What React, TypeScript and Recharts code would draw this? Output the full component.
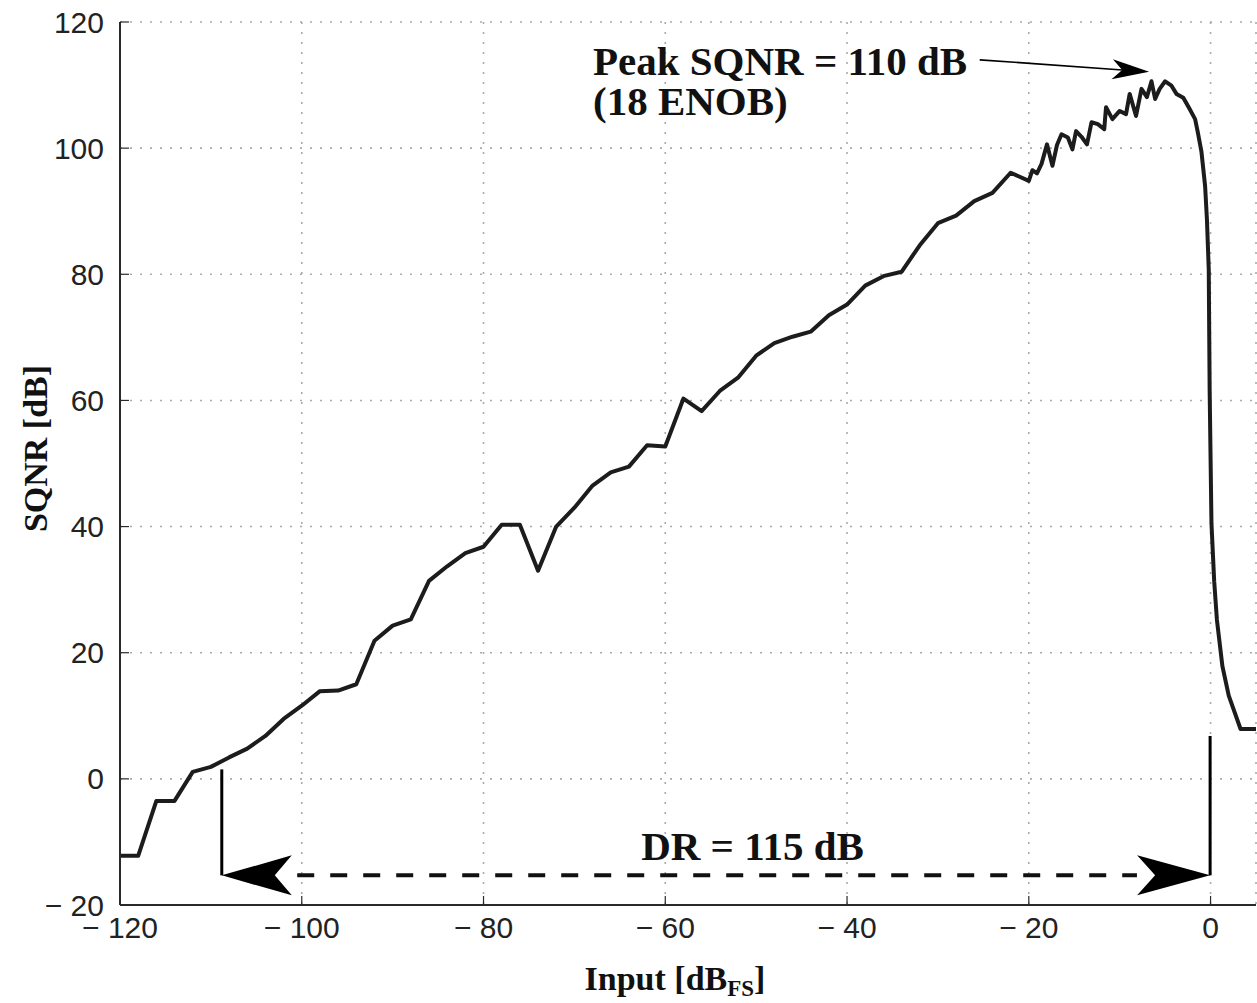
import React from 'react'
import {
  LineChart,
  Line,
  XAxis,
  YAxis,
  CartesianGrid,
  ReferenceLine,
  ReferenceDot,
} from 'recharts'

const inputDb = [
  -120, -118, -116, -114, -112, -110, -108, -106, -104, -102,
  -100, -98, -96, -94, -92, -90, -88, -86, -84, -82,
  -80, -78, -76, -74, -72, -70, -68, -66, -64, -62,
  -60, -58, -56, -54, -52, -50, -48, -46, -44, -42,
  -40, -38, -36, -34, -32, -30, -28, -26, -24, -22,
  -20, -19.6, -19.1, -18.6, -18.0, -17.4, -16.9, -16.4, -15.7, -15.2,
  -14.8, -14.2, -13.6, -13.1, -12.4, -11.7, -11.5, -10.8, -10.0, -9.3,
  -8.9, -8.2, -7.6, -7.0, -6.5, -6.1, -5.6, -5.0, -4.3, -3.75,
  -3.0, -2.3, -1.7, -1.4, -1.0, -0.6, -0.4, -0.2, -0.1, 0.1,
  0.4, 0.7, 1.3, 2.0, 3.3, 5,
]
const sqnrDb = [
  -12.2, -12.2, -3.5, -3.5, 1.1, 1.9, 3.4, 4.8, 6.8, 9.5,
  11.6, 13.9, 14.0, 15.0, 21.9, 24.3, 25.3, 31.4, 33.7, 35.8,
  36.8, 40.3, 40.3, 33.0, 40.0, 43.0, 46.5, 48.6, 49.5, 52.9,
  52.7, 60.3, 58.3, 61.5, 63.6, 67.1, 69.1, 70.1, 70.9, 73.5,
  75.2, 78.2, 79.7, 80.4, 84.6, 88.1, 89.3, 91.6, 92.9, 96.1,
  94.8, 96.5, 96.0, 97.5, 100.6, 97.2, 100.5, 102.2, 101.7, 99.8,
  102.7, 101.8, 100.6, 104.1, 103.8, 103.0, 106.5, 104.6, 105.9, 105.4,
  108.6, 105.1, 109.4, 108.1, 110.6, 107.8, 109.4, 110.6, 109.9, 108.6,
  108.0, 106.2, 104.6, 102.5, 99.4, 94.0, 88.7, 80.8, 61.6, 40.5,
  31.3, 25.2, 17.9, 13.2, 7.9, 7.9,
]

const xTicks = [-120, -100, -80, -60, -40, -20, 0]
const yTicks = [-20, 0, 20, 40, 60, 80, 100, 120]

const data = inputDb.map((x, i) => ({ input: x, sqnr: sqnrDb[i] }))

const SANS = '"Liberation Sans", Arial, sans-serif'
const SERIF = '"Liberation Serif", "Times New Roman", serif'
const AXIS = '#2a2a2a'

const fmt = (v: number) => (v < 0 ? `\u2212 ${Math.abs(v)}` : `${v}`)

const BottomTick = ({ x, y, payload }: any) => (
  <g>
    <line x1={x} y1={y} x2={x} y2={y - 9} stroke={AXIS} strokeWidth={1.2} />
    <text x={x} y={y + 33} textAnchor="middle" fontSize={30} fontFamily={SANS} fill="#222">
      {fmt(payload.value)}
    </text>
  </g>
)

const TopTick = ({ x, y }: any) => (
  <line x1={x} y1={y} x2={x} y2={y + 9} stroke={AXIS} strokeWidth={1.2} />
)

const LeftTick = ({ x, y, payload }: any) => (
  <g>
    <line x1={x} y1={y} x2={x + 9} y2={y} stroke={AXIS} strokeWidth={1.2} />
    <text x={x - 16} y={y} textAnchor="end" dominantBaseline="central" fontSize={30} fontFamily={SANS} fill="#222">
      {fmt(payload.value)}
    </text>
  </g>
)

const RightTick = ({ x, y }: any) => (
  <line x1={x} y1={y} x2={x - 9} y2={y} stroke={AXIS} strokeWidth={1.2} />
)

const yTitle = (props: any) => {
  const vb = props.viewBox ?? { x: 0, y: 22, width: 120, height: 883 }
  const cx = vb.x + 35
  const cy = vb.y + vb.height / 2 - 15
  return (
    <text
      x={cx}
      y={cy}
      transform={`rotate(-90 ${cx} ${cy})`}
      textAnchor="middle"
      dominantBaseline="central"
      fontSize={34}
      fontWeight="bold"
      fontFamily={SERIF}
      fill="#111"
    >
      SQNR [dB]
    </text>
  )
}

const xTitle = (props: any) => {
  const vb = props.viewBox ?? { x: 120, y: 905, width: 1136, height: 98 }
  return (
    <text x={vb.x + 555} y={vb.y + 85} textAnchor="middle" fontSize={34} fontWeight="bold" fontFamily={SERIF} fill="#111">
      <tspan>Input [dB</tspan>
      <tspan fontSize={23} dy={6}>FS</tspan>
      <tspan dy={-6}>]</tspan>
    </text>
  )
}

const textShape = (label: string, size: number, anchor: 'start' | 'middle') => (p: any) => (
  <text x={p.cx} y={p.cy} textAnchor={anchor} fontSize={size} fontWeight="bold" fontFamily={SERIF} fill="#111">
    {label}
  </text>
)

const leftHead = (p: any) => (
  <polygon points={`${p.cx},${p.cy} ${p.cx + 70},${p.cy - 20} ${p.cx + 53},${p.cy} ${p.cx + 70},${p.cy + 20}`} fill="#000" />
)

const rightHead = (p: any) => (
  <polygon points={`${p.cx},${p.cy} ${p.cx - 73},${p.cy - 20} ${p.cx - 55},${p.cy} ${p.cx - 73},${p.cy + 20}`} fill="#000" />
)

const peakHead = (p: any) => (
  <g transform={`translate(${p.cx} ${p.cy}) rotate(4)`}>
    <polygon points="0,0 -37,-10 -27,0 -37,10" fill="#000" />
  </g>
)

export default function App() {
  return (
    <div style={{ position: 'absolute', left: 0, top: 0, background: '#fff' }}>
      <LineChart width={1257} height={1003} data={data} margin={{ top: 22, right: 1, bottom: 0, left: 0 }}>
        <CartesianGrid stroke="#aaaaaa" strokeWidth={1.6} strokeDasharray="2 8" />
        <XAxis
          dataKey="input"
          type="number"
          domain={[-120, 5]}
          ticks={xTicks}
          interval={0}
          height={98}
          tickSize={0}
          tickMargin={0}
          tickLine={false}
          tick={<BottomTick />}
          axisLine={{ stroke: AXIS, strokeWidth: 2 }}
          label={xTitle}
        />
        <XAxis
          xAxisId="top"
          orientation="top"
          dataKey="input"
          type="number"
          domain={[-120, 5]}
          ticks={xTicks}
          interval={0}
          height={0}
          tickSize={0}
          tickMargin={0}
          tickLine={false}
          tick={<TopTick />}
          axisLine={{ stroke: AXIS, strokeWidth: 2 }}
        />
        <YAxis
          type="number"
          domain={[-20, 120]}
          ticks={yTicks}
          interval={0}
          width={120}
          tickSize={0}
          tickMargin={0}
          tickLine={false}
          tick={<LeftTick />}
          axisLine={{ stroke: AXIS, strokeWidth: 2 }}
          label={yTitle}
        />
        <YAxis
          yAxisId="right"
          orientation="right"
          type="number"
          domain={[-20, 120]}
          ticks={yTicks}
          interval={0}
          width={0}
          tickSize={0}
          tickMargin={0}
          tickLine={false}
          tick={<RightTick />}
          axisLine={{ stroke: '#888', strokeWidth: 1.5 }}
        />
        <Line
          type="linear"
          dataKey="sqnr"
          stroke="#1c1c1c"
          strokeWidth={4}
          strokeLinejoin="round"
          dot={false}
          activeDot={false}
          isAnimationActive={false}
        />

        {/* dynamic range markers */}
        <ReferenceLine segment={[{ x: -108.8, y: 1.5 }, { x: -108.8, y: -15.3 }]} stroke="#000" strokeWidth={3} />
        <ReferenceLine segment={[{ x: -0.05, y: 6.8 }, { x: -0.05, y: -15.3 }]} stroke="#000" strokeWidth={3} />
        <ReferenceLine
          segment={[{ x: -100.5, y: -15.3 }, { x: -8.1, y: -15.3 }]}
          stroke="#111"
          strokeWidth={4}
          strokeDasharray="17 16"
        />
        <ReferenceDot x={-108.8} y={-15.3} r={0} shape={leftHead} />
        <ReferenceDot x={-0.05} y={-15.3} r={0} shape={rightHead} />
        <ReferenceDot x={-50.4} y={-12.8} r={0} shape={textShape('DR = 115 dB', 41, 'middle')} />

        {/* peak annotation */}
        <ReferenceLine segment={[{ x: -25.4, y: 114.0 }, { x: -9.7, y: 112.4 }]} stroke="#000" strokeWidth={1.6} />
        <ReferenceDot x={-6.76} y={112.1} r={0} shape={peakHead} />
        <ReferenceDot x={-67.95} y={111.6} r={0} shape={textShape('Peak SQNR = 110 dB', 41, 'start')} />
        <ReferenceDot x={-67.95} y={105.3} r={0} shape={textShape('(18 ENOB)', 41, 'start')} />
      </LineChart>
    </div>
  )
}
